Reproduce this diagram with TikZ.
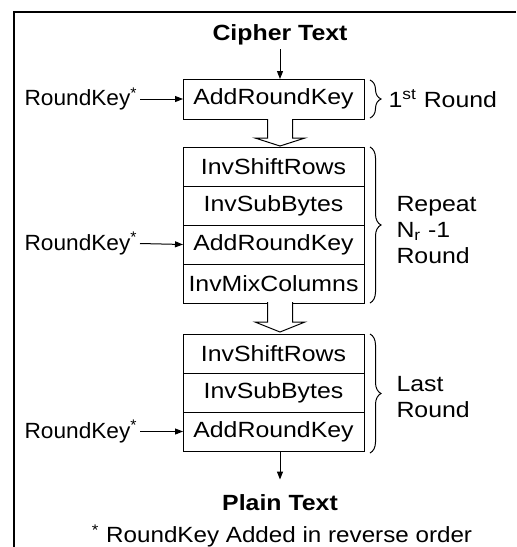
\documentclass[tikz,border=0pt]{standalone}
\usepackage{fontspec}
\setmainfont{Liberation Sans}[FakeStretch=1.13]
\newfontfamily\keyfont{Liberation Sans}[FakeStretch=1.03]
\newfontfamily\notefont{Liberation Sans}[FakeStretch=1.10]
\usetikzlibrary{positioning,arrows.meta,decorations.pathreplacing}
\newcommand\dgmfont{\fontsize{11}{13}\selectfont}
\begin{document}
\begin{tikzpicture}[x=0.5pt,y=-0.5pt]
 \tikzset{
  stage/.style={draw, line width=0.5pt, minimum width=90.5pt, minimum height=19.5pt,
                inner sep=0pt, outer sep=0pt, font=\dgmfont},
  lbl/.style={inner sep=1pt, font=\dgmfont},
  key/.style={lbl, anchor=east, font=\dgmfont\keyfont},
  con/.style={-{Triangle[length=4pt,width=3pt]}, line width=0.5pt},
  brc/.style={decorate, decoration={brace, amplitude=5.5pt}, line width=0.5pt},
  hol/.style={line width=0.5pt, fill=white}
 }
 \useasboundingbox (0,0) rectangle (516,547);
 \draw [line width=1pt] (516,12) -- (14,12) -- (14,547);

 % input and first round
 \node [inner sep=2pt, font=\dgmfont\bfseries] (ct) at (280,34.5) {Cipher Text};
 \node [stage, minimum height=20pt] (ark1) at (273.5,99) {AddRoundKey};
 \node [key] (rk1) at (140,99) {RoundKey\textsuperscript{*}};

 % main rounds
 \node [stage] (isr2) at (273.5,166.5) {InvShiftRows};
 \node [stage, below=0pt of isr2] (isb2) {InvSubBytes};
 \node [stage, below=0pt of isb2] (ark2) {AddRoundKey};
 \node [stage, below=0pt of ark2] (imc2) {InvMixColumns};
 \node [key] (rk2) at (140,243.5) {RoundKey\textsuperscript{*}};

 % last round
 \node [stage] (isr3) at (273.5,353.5) {InvShiftRows};
 \node [stage, below=0pt of isr3] (isb3) {InvSubBytes};
 \node [stage, below=0pt of isb3] (ark3) {AddRoundKey};
 \node [key] (rk3) at (140,431.5) {RoundKey\textsuperscript{*}};

 \node [inner xsep=0pt, inner ysep=7.5pt, font=\dgmfont\bfseries] (pt) at (280,503) {Plain Text};
 \node [lbl, font=\dgmfont\notefont] (note) at (282,536) {\textsuperscript{*} RoundKey Added in reverse order};

 % connectors
 \draw [con] (ct.south) -- (ct.south |- ark1.north);
 \foreach \src/\dst in {rk1/ark1, rk2/ark2, rk3/ark3}
  { \draw [con] (\src.east) -- (\dst.west); }
 \draw [con] (pt.north |- ark3.south) -- (pt.north);

 % hollow arrows between rounds
 \draw [hol] (267.5,119) -- (267.5,138) -- (255,138) -- (280,146) -- (305,138) -- (292.5,138) -- (292.5,119);
 \draw [hol] (267.5,302) -- (267.5,322) -- (255,322) -- (280,332) -- (305,322) -- (292.5,322) -- (292.5,302);

 % braces
 \draw [brc] (370,80) -- (370,118) node [midway, anchor=west, xshift=8pt, lbl] (r1) {1\textsuperscript{st} Round};
 \draw [brc] (370,147) -- (370,303) node [midway, anchor=west, xshift=12pt, yshift=-2.5pt, lbl, align=left] (rn) {Repeat\\N\textsubscript{r} -1\\Round};
 \draw [brc] (370,334) -- (370,453) node [midway, anchor=west, xshift=12pt, yshift=-2pt, lbl, align=left] (rl) {Last\\Round};
\end{tikzpicture}
\end{document}
